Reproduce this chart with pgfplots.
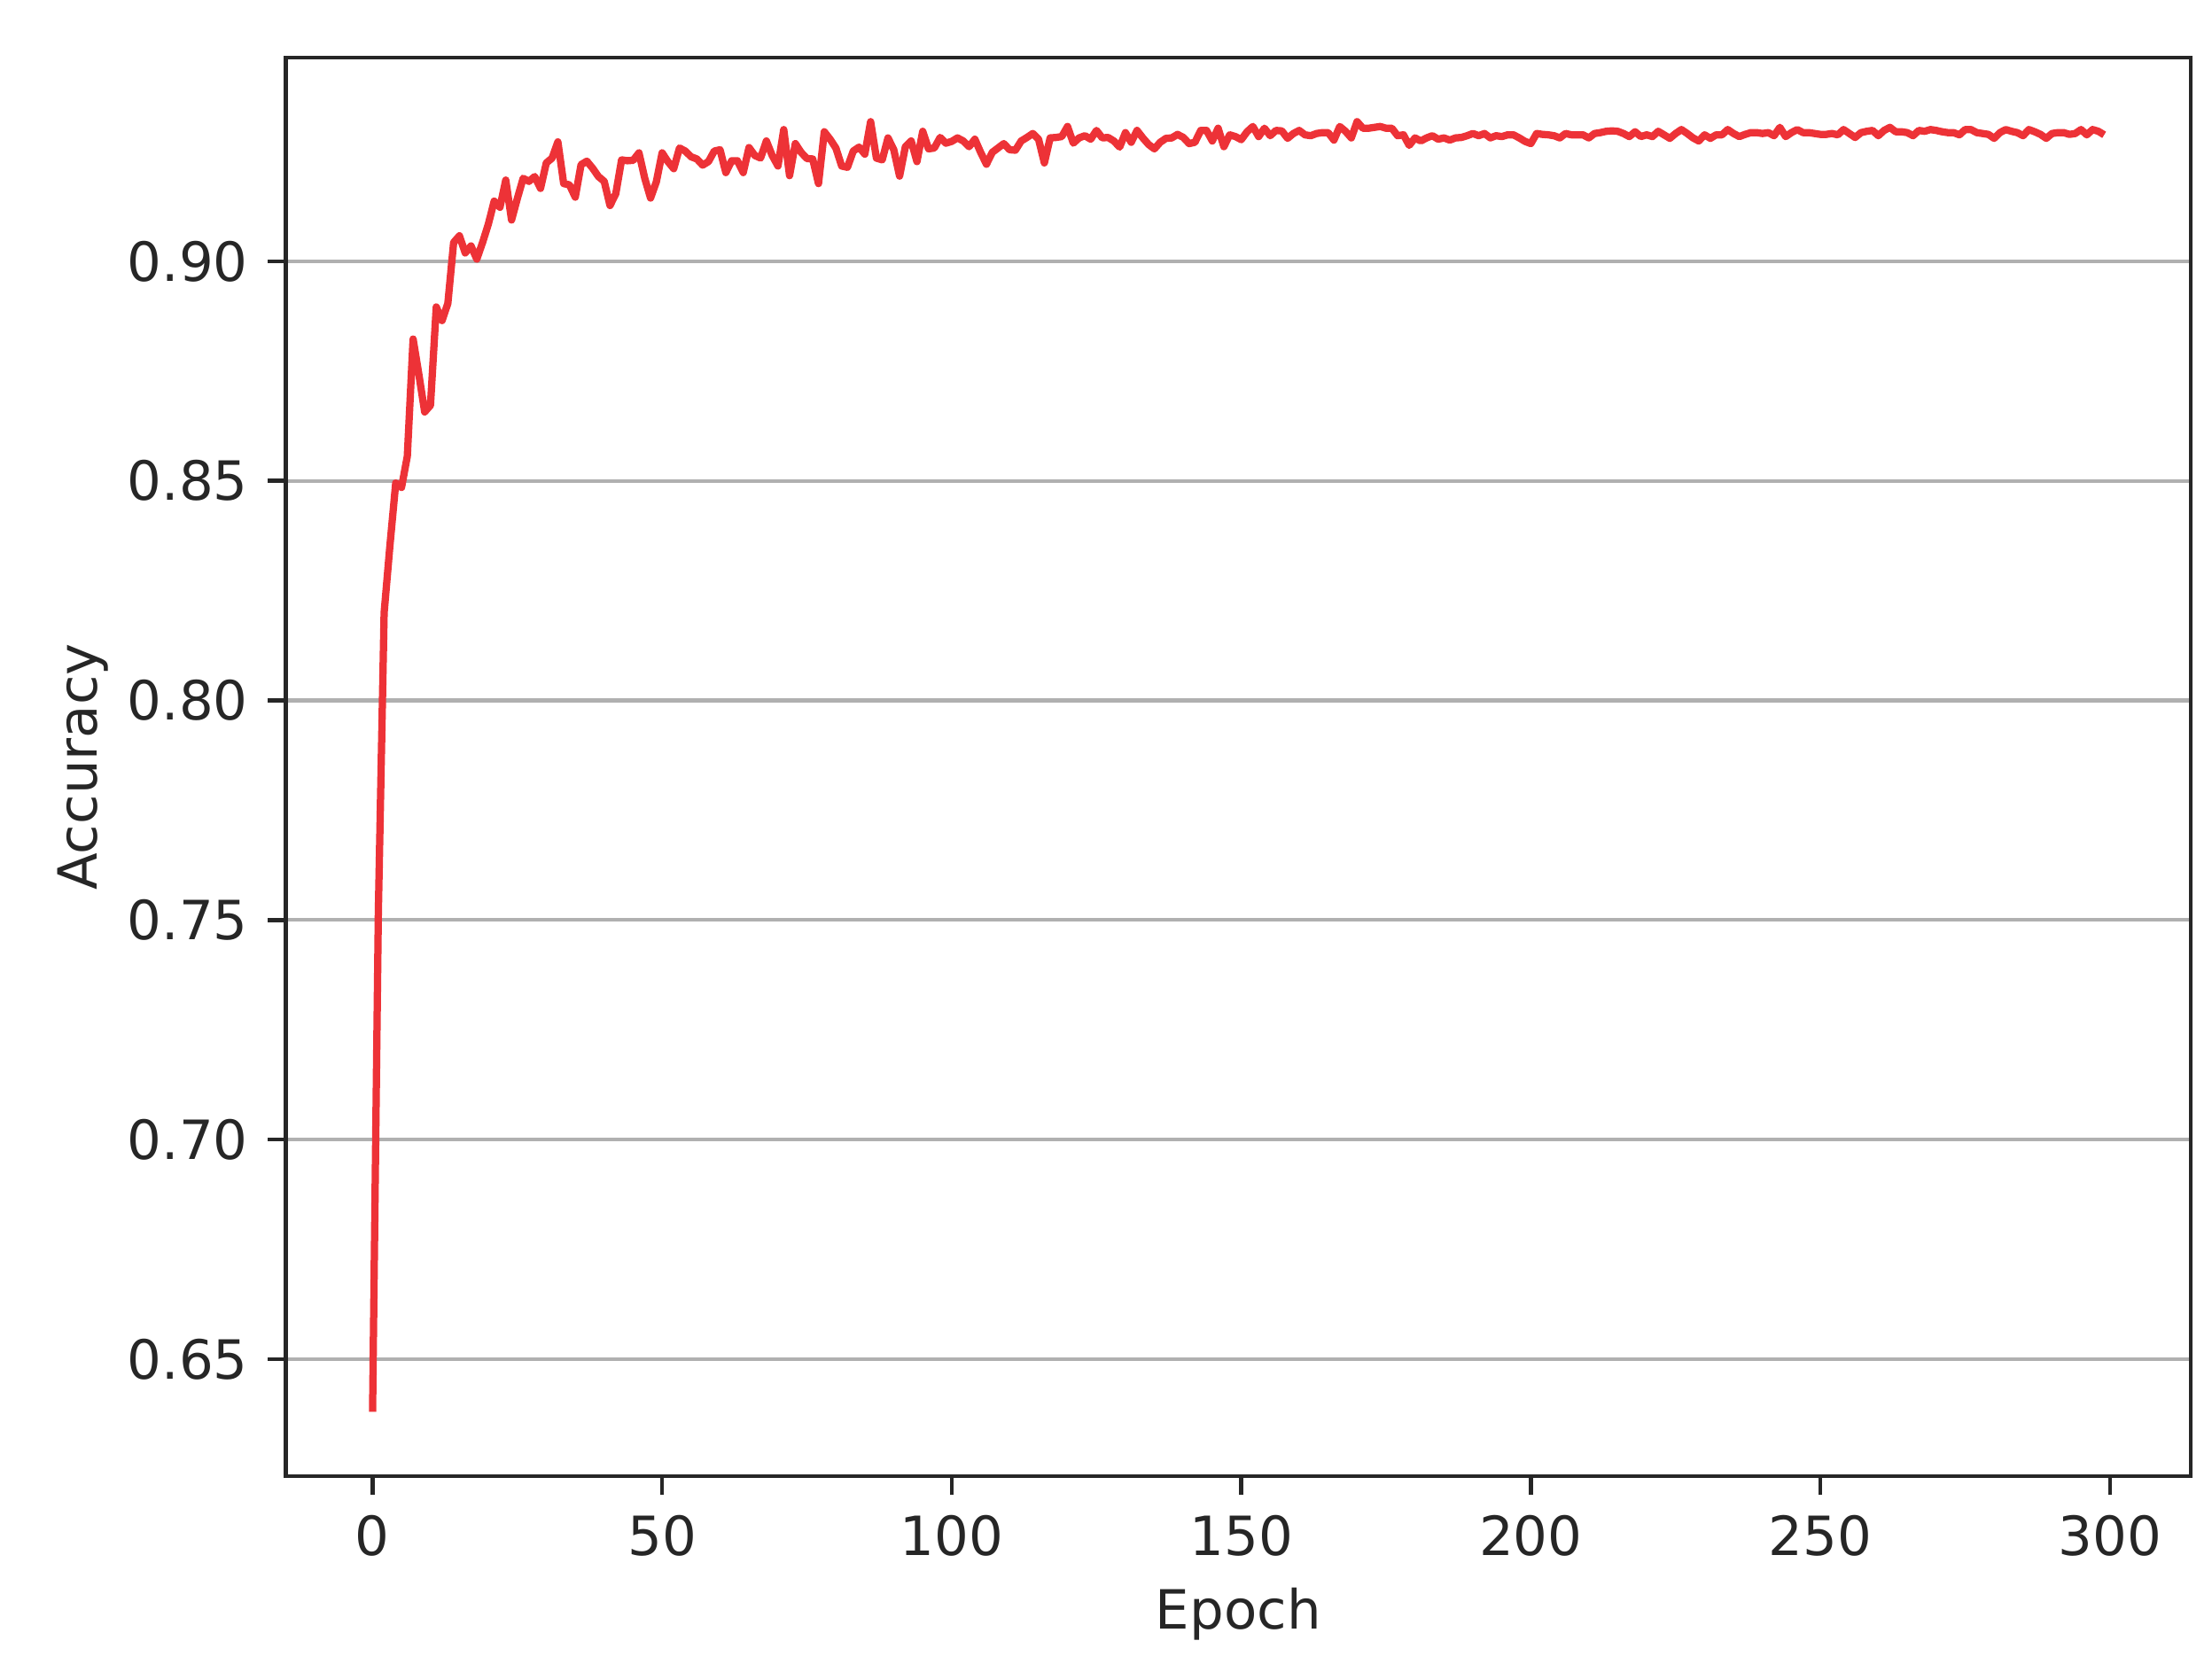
\documentclass[border=0pt]{standalone}
\usepackage{fontspec}
\setmainfont{DejaVu Sans}
\usepackage{pgfplots}
\pgfplotsset{compat=1.18}
\definecolor{linered}{RGB}{237,50,55}
\definecolor{txt}{RGB}{38,38,38}
\definecolor{gridgray}{RGB}{176,176,176}
\newcommand{\lblfont}{\fontsize{12.2}{14.6}\selectfont}
\begin{document}
\begin{tikzpicture}
\useasboundingbox (-64.54pt,-42.2pt) rectangle (434.66pt,333.2pt);
\begin{axis}[
  at={(0pt,0pt)}, anchor=south west,
  scale only axis, width=429.86pt, height=320.2pt,
  xmin=-14.95, xmax=313.95, ymin=0.62334, ymax=0.94639,
  xtick={0,50,100,150,200,250,300},
  xticklabels={0,50,100,150,200,250,300},
  ytick={0.65,0.70,0.75,0.80,0.85,0.90},
  yticklabels={0.65,0.70,0.75,0.80,0.85,0.90},
  /pgf/number format/assume math mode=true,
  tick align=outside, major tick length=4.1pt,
  xtick pos=left, ytick pos=left,
  tick style={line width=0.9pt, color=txt},
  axis line style={line width=0.9pt, color=txt},
  ymajorgrids, grid style={line width=0.85pt, color=gridgray},
  tick label style={font=\lblfont, color=txt, inner sep=0pt},
  xticklabel style={anchor=north, yshift=-4.5pt},
  yticklabel style={anchor=east, xshift=-4.3pt},
  every axis x label/.style={at={(axis description cs:0.5,0)}, yshift=-34.4pt, anchor=base, inner sep=0pt, font=\lblfont, color=txt},
  every axis y label/.style={at={(axis description cs:0,0.5)}, xshift=-42.7pt, rotate=90, anchor=base, inner sep=0pt, font=\lblfont, color=txt},
  xlabel={Epoch}, ylabel={Accuracy},
]
\addplot[color=linered, line width=1.65pt, line join=round, mark=none] table {
x y
0 0.6380
1 0.7520
2 0.8200
3 0.8353
4 0.8495
5 0.8485
6 0.8556
7 0.8823
8 0.8742
9 0.8657
10 0.8672
11 0.8896
12 0.8865
13 0.8904
14 0.9043
15 0.9058
16 0.9019
17 0.9035
18 0.9005
19 0.9043
20 0.9085
21 0.9137
22 0.9123
23 0.9185
24 0.9094
25 0.9143
26 0.9189
27 0.9182
28 0.9193
29 0.9166
30 0.9224
31 0.9235
32 0.9272
33 0.9177
34 0.9174
35 0.9146
36 0.9220
37 0.9228
38 0.9212
39 0.9193
40 0.9182
41 0.9127
42 0.9154
43 0.9231
44 0.9229
45 0.9230
46 0.9247
47 0.9189
48 0.9144
49 0.9181
50 0.9247
51 0.9227
52 0.9211
53 0.9258
54 0.9251
55 0.9238
56 0.9233
57 0.9219
58 0.9227
59 0.9251
60 0.9254
61 0.9202
62 0.9229
63 0.9229
64 0.9202
65 0.9259
66 0.9241
67 0.9235
68 0.9274
69 0.9241
70 0.9217
71 0.9300
72 0.9195
73 0.9268
74 0.9248
75 0.9234
76 0.9233
77 0.9177
78 0.9295
79 0.9278
80 0.9258
81 0.9217
82 0.9214
83 0.9251
84 0.9260
85 0.9244
86 0.9318
87 0.9235
88 0.9231
89 0.9281
90 0.9254
91 0.9194
92 0.9261
93 0.9274
94 0.9227
95 0.9296
96 0.9256
97 0.9258
98 0.9282
99 0.9269
100 0.9273
101 0.9281
102 0.9274
103 0.9261
104 0.9278
105 0.9248
106 0.9221
107 0.9248
108 0.9258
109 0.9268
110 0.9254
111 0.9253
112 0.9274
113 0.9282
114 0.9291
115 0.9278
116 0.9224
117 0.9281
118 0.9282
119 0.9284
120 0.9307
121 0.9269
122 0.9281
123 0.9286
124 0.9278
125 0.9298
126 0.9281
127 0.9282
128 0.9274
129 0.9260
130 0.9293
131 0.9271
132 0.9298
133 0.9281
134 0.9266
135 0.9256
136 0.9271
137 0.9280
138 0.9281
139 0.9289
140 0.9282
141 0.9268
142 0.9271
143 0.9298
144 0.9298
145 0.9274
146 0.9303
147 0.9261
148 0.9288
149 0.9284
150 0.9277
151 0.9295
152 0.9307
153 0.9284
154 0.9303
155 0.9286
156 0.9298
157 0.9297
158 0.9280
159 0.9291
160 0.9298
161 0.9288
162 0.9286
163 0.9291
164 0.9293
165 0.9293
166 0.9276
167 0.9307
168 0.9296
169 0.9281
170 0.9318
171 0.9303
172 0.9303
173 0.9305
174 0.9307
175 0.9303
176 0.9303
177 0.9286
178 0.9288
179 0.9264
180 0.9281
181 0.9274
182 0.9281
183 0.9286
184 0.9278
185 0.9281
186 0.9276
187 0.9281
188 0.9282
189 0.9286
190 0.9291
191 0.9286
192 0.9291
193 0.9281
194 0.9286
195 0.9284
196 0.9288
197 0.9288
198 0.9281
199 0.9273
200 0.9268
201 0.9291
202 0.9289
203 0.9288
204 0.9286
205 0.9281
206 0.9291
207 0.9288
208 0.9288
209 0.9288
210 0.9281
211 0.9291
212 0.9293
213 0.9296
214 0.9297
215 0.9296
216 0.9291
217 0.9284
218 0.9295
219 0.9284
220 0.9288
221 0.9284
222 0.9296
223 0.9288
224 0.9280
225 0.9291
226 0.9300
227 0.9291
228 0.9281
229 0.9274
230 0.9288
231 0.9280
232 0.9288
233 0.9288
234 0.9300
235 0.9291
236 0.9284
237 0.9289
238 0.9293
239 0.9293
240 0.9291
241 0.9293
242 0.9286
243 0.9305
244 0.9284
245 0.9293
246 0.9300
247 0.9293
248 0.9293
249 0.9291
250 0.9289
251 0.9289
252 0.9291
253 0.9288
254 0.9300
255 0.9291
256 0.9282
257 0.9293
258 0.9296
259 0.9298
260 0.9286
261 0.9298
262 0.9305
263 0.9295
264 0.9295
265 0.9293
266 0.9286
267 0.9298
268 0.9296
269 0.9300
270 0.9298
271 0.9295
272 0.9293
273 0.9293
274 0.9288
275 0.9300
276 0.9300
277 0.9293
278 0.9291
279 0.9289
280 0.9280
281 0.9293
282 0.9300
283 0.9296
284 0.9293
285 0.9286
286 0.9300
287 0.9295
288 0.9289
289 0.9280
290 0.9291
291 0.9293
292 0.9293
293 0.9289
294 0.9291
295 0.9300
296 0.9288
297 0.9300
298 0.9296
299 0.9288
};
\end{axis}
\end{tikzpicture}
\end{document}
